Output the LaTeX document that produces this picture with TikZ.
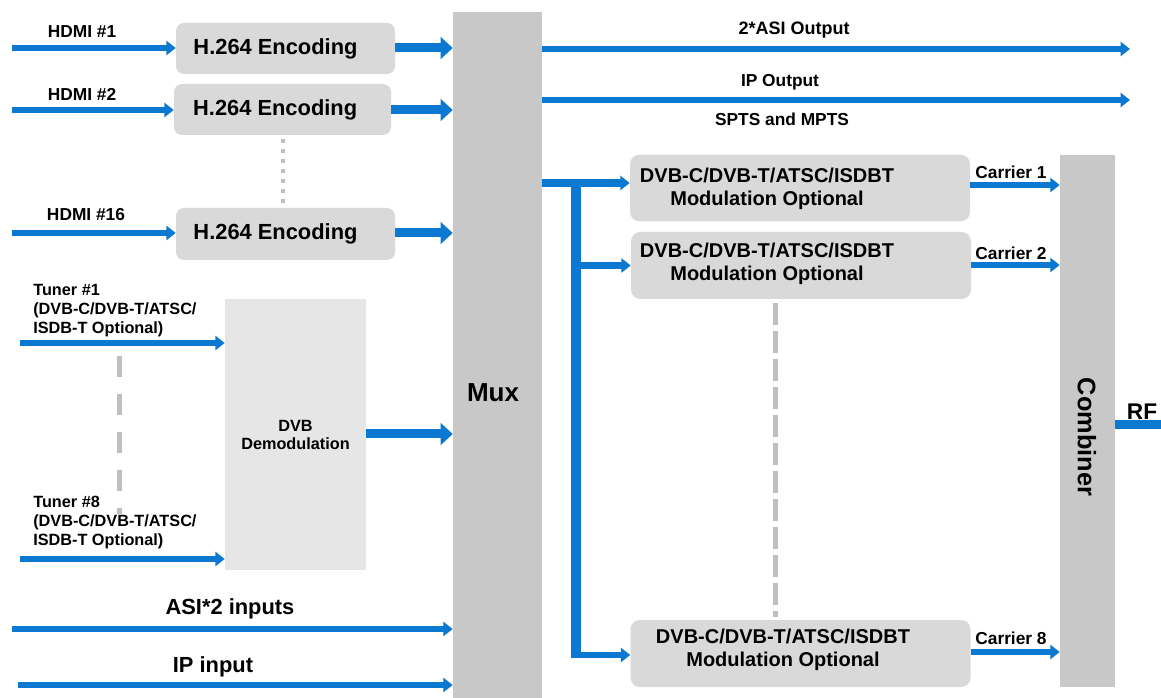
\documentclass[tikz,border=0pt]{standalone}
\usepackage{fontspec}
\setmainfont{Liberation Sans}
\usetikzlibrary{arrows.meta,calc}
\definecolor{flow}{HTML}{0B78D1}
\definecolor{muxgray}{HTML}{C8C8C8}
\definecolor{boxgray}{HTML}{D9D9D9}
\definecolor{demodgray}{HTML}{E6E6E6}
\definecolor{dashgray}{HTML}{BFBFBF}
\begin{document}
\begin{tikzpicture}[x=0.75pt,y=-0.75pt,
 every node/.style={font=\bfseries, inner sep=0pt},
 bar/.style={fill=muxgray, draw=none, rectangle},
 encbox/.style={fill=boxgray, rounded corners=6pt, minimum width=164.25pt, minimum height=38.25pt},
 modbox/.style={fill=boxgray, rounded corners=7pt, minimum width=255pt, minimum height=50pt},
 enctext/.style={font=\fontsize{16.4}{19}\selectfont\bfseries},
 modtext/.style={font=\fontsize{15}{17.5}\selectfont\bfseries, align=center},
 lbl/.style={font=\fontsize{13}{15}\selectfont\bfseries},
 tunerlbl/.style={font=\fontsize{12.2}{14.25}\selectfont\bfseries, align=left, anchor=west},
 biglbl/.style={font=\fontsize{16.4}{19}\selectfont\bfseries},
 inarrow/.style={draw=flow, line width=5pt, -{Triangle[length=7pt,width=10.5pt]}},
 fatarrow/.style={draw=flow, line width=6.75pt, -{Triangle[length=9pt,width=16pt]}},
 busline/.style={draw=flow, line width=7.5pt},
 dotline/.style={draw=dashgray, line width=3pt, dash pattern=on 3pt off 4.5pt},
 dashline/.style={draw=dashgray, line width=3.75pt, dash pattern=on 15.75pt off 12.75pt},
]
\useasboundingbox (0,0) rectangle (1161,698);

% Mux
\node[bar, minimum width=66.75pt, minimum height=514.5pt] (mux) at (497.5,355) {};
\node[font=\fontsize{19.5}{22}\selectfont\bfseries] (muxlbl) at (493,393) {Mux};

% Encoders
\node[encbox, label={[enctext, xshift=-7.5pt]center:H.264 Encoding}] (enc1) at (285.5,48.5) {};
\node[encbox, minimum width=162.75pt, label={[enctext, xshift=-5.5pt]center:H.264 Encoding}] (enc2) at (282.5,109.5) {};
\node[encbox, minimum height=39pt, label={[enctext, xshift=-7.5pt]center:H.264 Encoding}] (enc3) at (285.5,234) {};

\coordinate (h1) at (12,48);
\coordinate (h2) at (12,110);
\coordinate (h3) at (12,233);
\draw[inarrow] (h1) -- (h1 -| enc1.west);
\draw[inarrow] (h2) -- (h2 -| enc2.west);
\draw[inarrow] (h3) -- (h3 -| enc3.west);
\node[lbl] (hl1) at (82,32) {HDMI \#1};
\node[lbl] (hl2) at (82,94) {HDMI \#2};
\node[lbl] (hl3) at (86,215) {HDMI \#16};

\draw[fatarrow] (enc1.east |- h1) -- (mux.west |- h1);
\draw[fatarrow] (enc2.east |- h2) -- (mux.west |- h2);
\draw[fatarrow] (enc3.east |- h3) -- (mux.west |- h3);

\draw[dotline] (283,139) -- (283,203);

% Tuners and demodulation
\node[fill=demodgray, minimum width=105.75pt, minimum height=203.25pt,
      font=\fontsize{12.2}{13.5}\selectfont\bfseries, align=center] (demod) at (295.5,434.5) {DVB\\Demodulation};
\coordinate (t1) at (20,343);
\coordinate (t8) at (20,559);
\draw[inarrow] (t1) -- (t1 -| demod.west);
\draw[inarrow] (t8) -- (t8 -| demod.west);
\node[tunerlbl] (tl1) at (33,311) {Tuner \#1\\(DVB-C/DVB-T/ATSC/\\ISDB-T Optional)};
\node[tunerlbl] (tl8) at (33,523) {Tuner \#8\\(DVB-C/DVB-T/ATSC/\\ISDB-T Optional)};
\draw[dashline] (119,356) -- (119,514);
\coordinate (dm) at (0,434);
\draw[fatarrow] (demod.east |- dm) -- (mux.west |- dm);

% ASI and IP inputs
\coordinate (asiin) at (12,629);
\coordinate (ipin) at (18,685);
\draw[inarrow] (asiin) -- (asiin -| mux.west);
\draw[inarrow] (ipin) -- (ipin -| mux.west);
\node[biglbl] (asil) at (230,609) {ASI*2 inputs};
\node[biglbl] (ipl) at (213,667) {IP input};

% Outputs
\coordinate (asiout) at (1130,49);
\coordinate (ipout) at (1130,100);
\draw[inarrow] (mux.east |- asiout) -- (asiout);
\draw[inarrow] (mux.east |- ipout) -- (ipout);
\node[lbl, font=\fontsize{13.5}{15}\selectfont\bfseries] (asiol) at (794,30) {2*ASI Output};
\node[lbl] (ipol) at (780,82) {IP Output};
\node[lbl] (sptsl) at (782,119) {SPTS and MPTS};

% Modulators
\node[modbox] (mod1) at (800,188) {};
\node[modbox, minimum height=50.25pt] (mod2) at (801,265.5) {};
\node[modbox, minimum height=50.25pt] (mod8) at (800.5,653.5) {};
\node[modtext] (mt1) at (767,189) {DVB-C/DVB-T/ATSC/ISDBT\\Modulation Optional};
\node[modtext] (mt2) at (767,264) {DVB-C/DVB-T/ATSC/ISDBT\\Modulation Optional};
\node[modtext] (mt8) at (783,650) {DVB-C/DVB-T/ATSC/ISDBT\\Modulation Optional};
\draw[draw=dashgray, line width=3.75pt, dash pattern=on 16.5pt off 4.5pt] (775,303) -- (775,617);

% Bus
\coordinate (busTop) at (576,183);
\coordinate (busBot) at (576,658);
\draw[inarrow, line width=5.5pt] (mux.east |- busTop) -- (mod1.west |- busTop);
\draw[busline] (busTop) -- (busBot);
\draw[inarrow] (busTop |- mod2.west) -- (mod2.west);
\draw[inarrow] (busTop |- 0,655) -- (mod8.west |- 0,655);

% Combiner
\node[bar, minimum width=41.25pt, minimum height=399pt] (comb) at (1087.5,421) {};
\node[rotate=-90, font=\fontsize{19}{22}\selectfont\bfseries] (combl) at (1087,437) {Combiner};
\coordinate (c1) at (0,185);
\coordinate (c2) at (0,265);
\coordinate (c8) at (0,652);
\draw[inarrow] (mod1.east |- c1) -- (comb.west |- c1);
\draw[inarrow] (mod2.east |- c2) -- (comb.west |- c2);
\draw[inarrow] (mod8.east |- c8) -- (comb.west |- c8);
\node[lbl] (cl1) at (1011,172) {Carrier 1};
\node[lbl] (cl2) at (1011,253) {Carrier 2};
\node[lbl] (cl8) at (1011,638) {Carrier 8};

% RF
\coordinate (rfend) at (1161,425);
\draw[draw=flow, line width=6.75pt] (comb.east |- rfend) -- (rfend);
\node[font=\fontsize{17}{20}\selectfont\bfseries] (rfl) at (1142,412) {RF};
\end{tikzpicture}
\end{document}
